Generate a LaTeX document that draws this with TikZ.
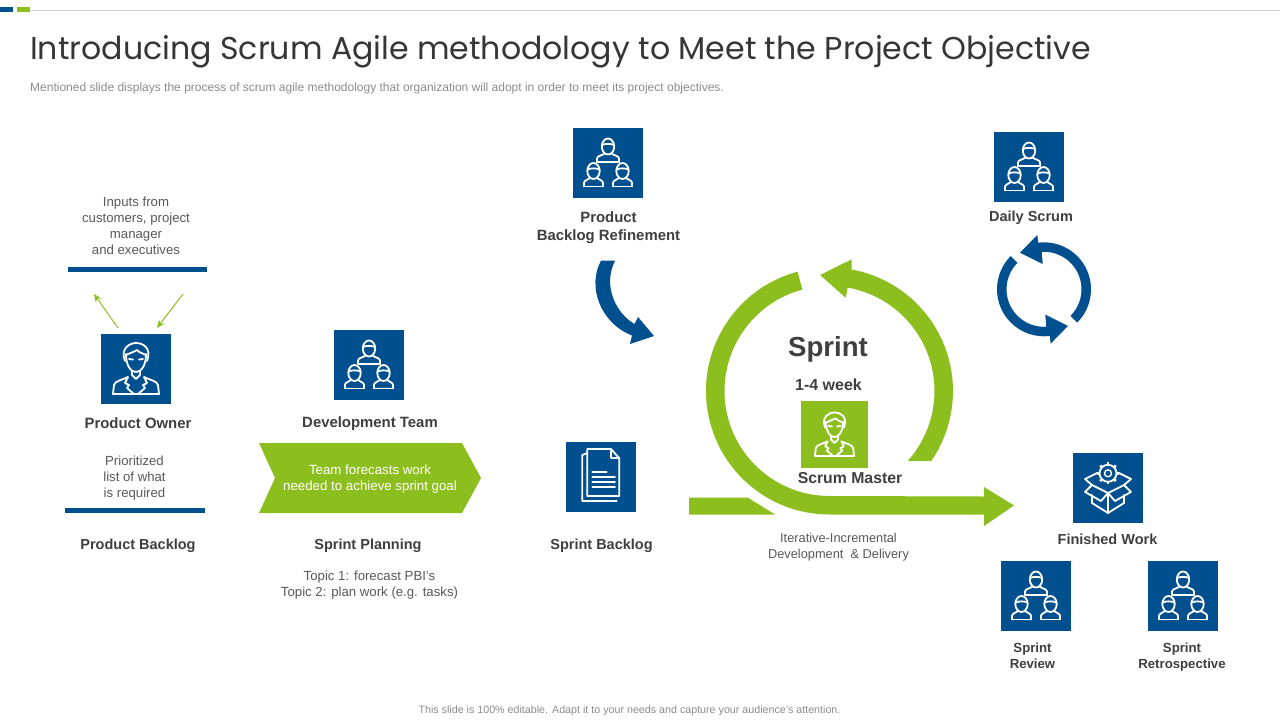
\documentclass[tikz,border=0pt]{standalone}
\usepackage{fontspec}
\setmainfont{Liberation Sans}
\newfontfamily\titlefont{Poppins}
\usetikzlibrary{arrows.meta}
\definecolor{scrumblue}{HTML}{00508F}
\definecolor{scrumgreen}{HTML}{8CBF1E}
\definecolor{labeltext}{HTML}{3F3F3F}
\definecolor{softtext}{HTML}{595959}
\definecolor{faint}{HTML}{8C8C8C}
\newcommand{\teamhead}[3]{
	\begin{scope}[shift={(#1,#2)}]
		\draw[iconline] (0,0) ellipse [x radius=6.2, y radius=8];
		\draw[iconline] (-6,-1.5) .. controls (-3,-3) and (3,-3) .. (6,-1.5);
		\draw[iconline] (-#3,15.5) -- (-#3,12) .. controls (-#3,9.5) and (-6,9) .. (-3.5,7);
		\draw[iconline] (#3,15.5) -- (#3,12) .. controls (#3,9.5) and (6,9) .. (3.5,7);
		\draw[iconline] (-#3,15.5) -- (#3,15.5);
	\end{scope}
}
\tikzset{
	iconline/.style={draw=white,line width=1.8pt,line join=round,line cap=round},
	iconbox/.style={fill=scrumblue,minimum size=70,inner sep=0},
	masterbox/.style={fill=scrumgreen,minimum size=67,inner sep=0},
	bluebar/.style={fill=scrumblue,minimum height=5,inner sep=0},
	heading/.style={text=labeltext,align=center,font=\fontsize{14.5}{18}\selectfont\bfseries},
	wideheading/.style={text=labeltext,align=center,font=\fontsize{14.9}{18}\selectfont\bfseries},
	bigheading/.style={text=labeltext,align=center,font=\fontsize{15.8}{18}\selectfont\bfseries},
	subheading/.style={text=labeltext,align=center,font=\fontsize{13.2}{16}\selectfont\bfseries},
	note/.style={text=softtext,align=center,font=\fontsize{13.2}{16}\selectfont},
	thinarrow/.style={draw=scrumgreen,line width=1pt,-{Stealth[length=8pt,width=7pt]}},
	pics/teamicon/.style={code={
		\teamhead{0}{-16.5}{11}
		\teamhead{-14.5}{8}{9.5}
		\teamhead{14.5}{8}{9.5}
	}},
	pics/ownericon/.style={code={
		\draw[iconline] (-10,-15) .. controls (-10,-3) and (-5,3) .. (0,3) .. controls (5,3) and (10,-3) .. (10,-15);
		\draw[iconline] (-11,-8) .. controls (-16,-21) and (-6,-26) .. (0,-26) .. controls (7,-26) and (16,-21) .. (11,-8);
		\draw[iconline] (-10,-14) .. controls (-6,-16) and (-2,-17) .. (1,-19) .. controls (3,-16) and (7,-16) .. (10,-14);
		\draw[iconline] (-7,-10) -- (-3,-9.5) (7,-10) -- (3,-9.5);
		\draw[iconline] (-4,2) -- (-4,6) -- (0,10) -- (4,6) -- (4,2);
		\draw[iconline] (-23,25) -- (23,25);
		\draw[iconline] (-23,25) -- (-22,16) .. controls (-21,12) and (-14,11) .. (-8,8) -- (-11,14) -- (-7,16) -- (-9,19) -- (-2,25);
		\draw[iconline] (23,25) -- (22,16) .. controls (21,12) and (14,11) .. (8,8) -- (11,14) -- (7,16) -- (9,19) -- (2,25);
	}},
	pics/papericon/.style={code={
		\draw[iconline] (-13.7,19) -- (-13.7,-28) -- (10,-28) -- (18.3,-18.7) -- (18.3,19) -- cycle;
		\draw[iconline] (10,-28) -- (10,-18.7) -- (18.3,-18.7);
		\draw[iconline] (-13.7,-24) -- (-18.7,-22) -- (-18.7,24) -- (15.7,24);
		\draw[iconline] (-8.7,-4.7) -- (5.7,-4.7);
		\draw[iconline] (-8.7,0.3) -- (14,0.3);
		\draw[iconline] (-8.7,5.3) -- (14,5.3);
		\draw[iconline] (-8.7,10) -- (14,10);
	}},
	pics/boxicon/.style={code={
		\draw[iconline] (0,-14.7) circle (8.5);
		\draw[iconline,line width=1.4pt] (0,-14.7) circle (3.5);
		\foreach \a in {0,45,...,315}
			\draw[white,line width=2.6pt,shift={(0,-14.7)}] (\a:8.5) -- (\a:11);
		\draw[iconline] (-16,-3) -- (0,5) -- (16,-3);
		\draw[iconline] (-16,7) -- (-16,15) -- (0,25) -- (16,15) -- (16,7);
		\draw[iconline] (0,5) -- (0,25);
		\draw[iconline] (-16,-3) -- (-23,4) -- (-7,13) -- (0,5);
		\draw[iconline] (16,-3) -- (23,4) -- (7,13) -- (0,5);
		\draw[iconline] (-16,-3) -- (-23,-9) -- (-11,-15);
		\draw[iconline] (16,-3) -- (23,-9) -- (11,-15);
	}},
}

\begin{document}
\begin{tikzpicture}[x=1pt,y=-1pt]
	\useasboundingbox (0,0) rectangle (1280,720);
	\fill[white] (0,0) rectangle (1280,720);

	\draw[gray!35,line width=1pt] (30,10.5) -- (1280,10.5);
	\fill[scrumblue] (0,7) rectangle (13,12);
	\fill[scrumgreen] (17,7) rectangle (30,12);
	\node[anchor=base west,inner sep=0,text=labeltext!85!black,font=\fontsize{31.6}{36}\selectfont\titlefont] (title) at (30,59.5) {Introducing Scrum Agile methodology to Meet the Project Objective};
	\node[anchor=base west,inner sep=0,text=faint,font=\fontsize{12}{14}\selectfont] (subtitle) at (30,91) {Mentioned slide displays the process of scrum agile methodology that organization will adopt in order to meet its project objectives.};

	\node[note] (inputs) at (136,225.5) {Inputs from\\customers, project\\manager\\and executives};
	\node[bluebar,minimum width=139] (inputbar) at (137.5,269) {};
	\coordinate (upstart) at (118,328);
	\coordinate (upend) at (94,294);
	\coordinate (downstart) at (183,294);
	\coordinate (downend) at (157,328);
	\draw[thinarrow] (upstart) -- (upend);
	\draw[thinarrow] (downstart) -- (downend);
	\node[iconbox] (owner) at (136,369) {};
	\pic at (owner) {ownericon};
	\node[wideheading] (ownerlabel) at (138,423) {Product Owner};
	\node[note] (prioritized) at (134.5,478) {Prioritized\\list of what\\is required};
	\node[bluebar,minimum width=140] (backlogbar) at (135,510.5) {};
	\node[heading] (backloglabel) at (138,546) {Product Backlog};

	\node[iconbox] (devteam) at (369,365) {};
	\pic at (devteam) {teamicon};
	\node[wideheading] (devlabel) at (370,424) {Development Team};
	\fill[scrumgreen] (259,443) -- (462,443) -- (481,478) -- (462,513) -- (259,513) -- (275,478) -- cycle;
	\node[text=white,align=center,font=\fontsize{13.3}{16}\selectfont] (forecast) at (370,479) {Team forecasts work\\needed to achieve sprint goal};
	\node[heading] (planlabel) at (368,546) {Sprint Planning};
	\node[note] (topics) at (369.5,585) {Topic 1: forecast PBI's\\Topic 2: plan work (e.g. tasks)};

	\node[iconbox] (refine) at (608,163) {};
	\pic at (refine) {teamicon};
	\node[wideheading] (refinelabel) at (608.5,227.5) {Product\\Backlog Refinement};
	\fill[scrumblue] (601,260.7) .. controls (587,286) and (600,323) .. (632,335.5) -- (630,344) -- (654,336) -- (638,317) -- (634.5,324) .. controls (617,314) and (602,287) .. (615,260.7) -- cycle;

	\node[iconbox] (sprintdoc) at (601,477) {};
	\pic at (sprintdoc) {papericon};
	\node[heading] (doclabel) at (601.5,546) {Sprint Backlog};

	\fill[scrumgreen] (689,497.7) -- (748,497.7) -- (775,514.5) -- (689,514.5) -- cycle;
	\fill[scrumgreen] (829.5,391) ++(255:123.5) arc [start angle=255,end angle=90,radius=123.5] -- (984,514.5) -- (984,526) -- (1014,505.5) -- (984,487) -- (984,496.5) -- (829.5,496) arc [start angle=90,end angle=255,radius=105] -- cycle;
	\fill[scrumgreen] (829.5,391) ++(34.5:123.5) arc [start angle=34.5,end angle=-79.7,radius=123.5] -- (851.7,259.3) -- (820,275) -- (845.7,297.7) -- (847.7,287.6) arc [start angle=-80,end angle=41.8,radius=105] -- cycle;
	\node[text=labeltext,font=\fontsize{27.6}{32}\selectfont\bfseries] (sprint) at (828,349) {Sprint};
	\node[bigheading,font=\fontsize{16}{18}\selectfont\bfseries] (weeks) at (828.5,384.5) {1-4 week};
	\node[masterbox] (master) at (834.5,434.5) {};
	\pic[scale=0.85] at (master) {ownericon};
	\node[bigheading] (masterlabel) at (850,478.5) {Scrum Master};
	\node[note,font=\fontsize{12.8}{16}\selectfont] (iterative) at (838.5,547) {Iterative-Incremental\\Development\ \ \& Delivery};

	\node[iconbox] (daily) at (1029,167) {};
	\pic at (daily) {teamicon};
	\node[heading] (dailylabel) at (1031,217.5) {Daily Scrum};
	\foreach \a in {0,180}
		\fill[scrumblue,shift={(1044,289.3)},rotate=\a] (45:47) arc [start angle=45,end angle=-97,radius=47] -- (-6.7,-54.3) -- (-24,-36.6) -- (-1.3,-25.3) -- (-93.5:37.5) arc [start angle=-93.5,end angle=45,radius=37.5] -- cycle;

	\node[iconbox] (finished) at (1108,488) {};
	\pic at (finished) {boxicon};
	\node[heading] (finishedlabel) at (1107.5,539) {Finished Work};
	\node[iconbox] (review) at (1036,596) {};
	\pic at (review) {teamicon};
	\node[subheading] (reviewlabel) at (1032.5,655.5) {Sprint\\Review};
	\node[iconbox] (retro) at (1183,596) {};
	\pic at (retro) {teamicon};
	\node[subheading] (retrolabel) at (1182,657) {Sprint\\Retrospective};

	\node[text=faint,font=\fontsize{10.7}{12}\selectfont] (footer) at (629.5,710.5) {This slide is 100\% editable.  Adapt it to your needs and capture your audience's attention.};
\end{tikzpicture}
\end{document}
